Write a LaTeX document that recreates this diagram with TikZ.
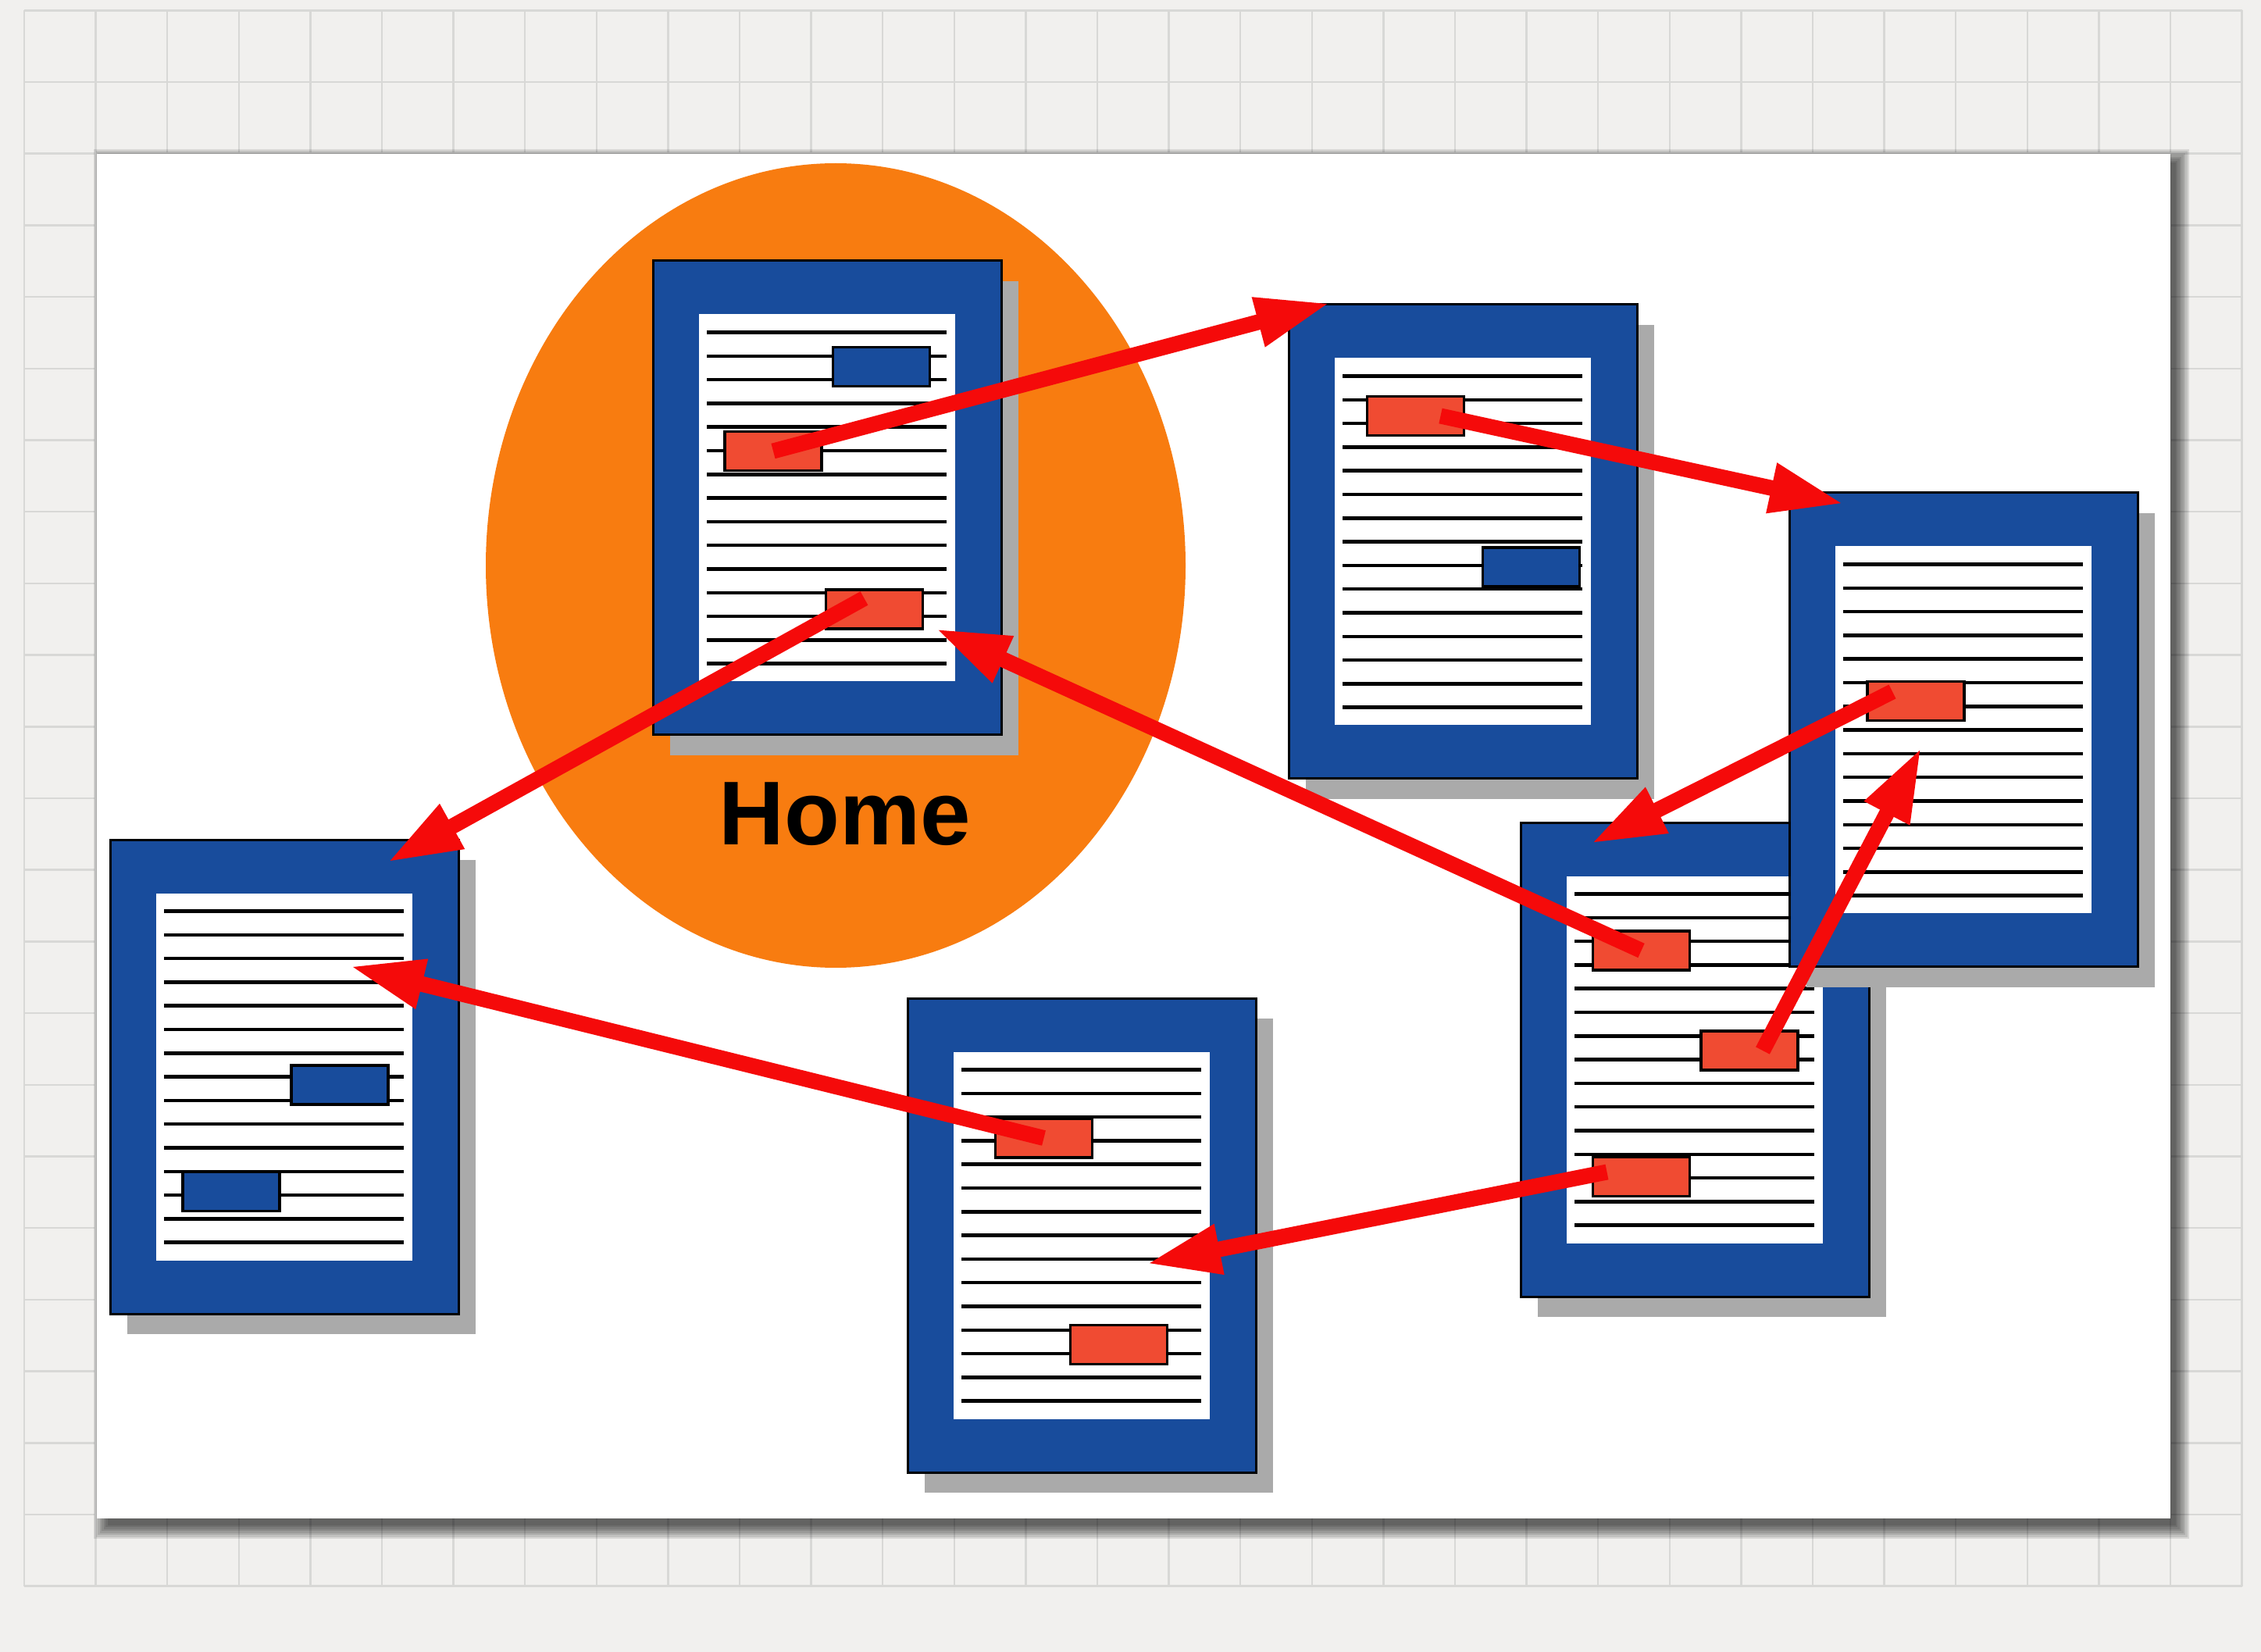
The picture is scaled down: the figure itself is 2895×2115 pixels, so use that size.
\documentclass[tikz,border=0pt]{standalone}
\usepackage{fontspec}
\newfontfamily\labelfont{Liberation Sans}
\usetikzlibrary{arrows.meta}
\usetikzlibrary{shapes.geometric}
\usetikzlibrary{shadows}
\definecolor{paper}{RGB}{241,240,238}
\definecolor{gridgray}{RGB}{216,216,214}
\definecolor{pageblue}{RGB}{24,76,156}
\definecolor{linkred}{RGB}{240,75,50}
\definecolor{arrowred}{RGB}{245,10,10}
\definecolor{homeorange}{RGB}{248,124,16}
\definecolor{shadowgray}{RGB}{170,170,170}

\begin{document}
\begin{tikzpicture}[
		x=0.1mm, y=-0.1mm,
		gridline/.style={draw=gridgray, line width=0.25mm},
		webpage/.style={
			rectangle, draw=black, line width=0.3mm, fill=pageblue,
			minimum width=44.6mm, minimum height=60.7mm, inner sep=0pt,
			drop shadow={shadow xshift=2.2mm, shadow yshift=-2.6mm, fill=shadowgray, opacity=1}
		},
		textline/.style={draw=black, line width=0.45mm},
		sheet/.style={
			rectangle, fill=white, minimum width=32.8mm, minimum height=47mm, inner sep=0pt,
			path picture={
				\foreach \i in {0,...,14}
					\draw[textline] ([xshift=1mm, yshift={-2.3mm-3.03mm*\i}]path picture bounding box.north west) -- ++(30.7mm,0);
			}
		},
		linkbox/.style={
			rectangle, draw=black, line width=0.35mm,
			minimum width=12.4mm, minimum height=5mm, inner sep=0pt
		},
		redlink/.style={linkbox, fill=linkred},
		bluelink/.style={linkbox, fill=pageblue},
		hyperlink/.style={draw=arrowred, line width=2mm, -{Triangle[length=9.5mm, width=6mm]}}
	]
		\useasboundingbox (0,0) rectangle (2895,2115);
		\fill[paper] (0,0) rectangle (2895,2115);
		\foreach \k in {0,...,31}
			\draw[gridline] ({31+91.6*\k},13) -- ({31+91.6*\k},2031);
		\foreach \k in {0,...,22}
			\draw[gridline] (31,{13.3+91.7*\k}) -- (2871,{13.3+91.7*\k});
		
		% the white card and its soft shadow
		\foreach \k in {1,...,8}
			\fill[black, opacity=0.1] ({140-2.5*\k},{211-2.5*\k}) rectangle ({2783+2.5*\k},{1950+2.5*\k});
		\fill[white] (124,197) rectangle (2779,1944);
		
		\node[ellipse, fill=homeorange, minimum width=89.6mm, minimum height=103mm, inner sep=0pt] (homezone) at (1070,724) {};
		\node[anchor=base, inner sep=0pt, font=\labelfont\bfseries\fontsize{33pt}{40pt}\selectfont] (homelabel) at (1082,1082) {Home};
		
		% home page
		\node[webpage] (home) at (1059,637.5) {};
		\node[sheet] (homeIn) at (home.center) {};
		\node[bluelink] (homeB1) at ([xshift=6.95mm, yshift=16.8mm]home.center) {};
		\node[redlink] (homeR1) at ([xshift=-6.9mm, yshift=6mm]home.center) {};
		\node[redlink] (homeR2) at ([xshift=6.05mm, yshift=-14.25mm]home.center) {};
		
		% upper middle page
		\node[webpage] (pA) at (1873,693.5) {};
		\node[sheet] (pAIn) at (pA.center) {};
		\node[redlink] (pAR1) at ([xshift=-6.05mm, yshift=16.1mm]pA.center) {};
		\node[bluelink] (pAB1) at ([xshift=8.75mm, yshift=-3.25mm]pA.center) {};
		
		% left page
		\node[webpage] (pE) at (364,1378.5) {};
		\node[sheet] (pEIn) at (pE.center) {};
		\node[bluelink] (pEB1) at ([xshift=7.1mm, yshift=-1.05mm]pE.center) {};
		\node[bluelink] (pEB2) at ([xshift=-6.8mm, yshift=-14.7mm]pE.center) {};
		
		% bottom page
		\node[webpage] (pD) at (1385,1581.5) {};
		\node[sheet] (pDIn) at (pD.center) {};
		\node[redlink] (pDR1) at ([xshift=-4.85mm, yshift=12.45mm]pD.center) {};
		\node[redlink] (pDR2) at ([xshift=4.75mm, yshift=-14mm]pD.center) {};
		
		% lower right page
		\node[webpage] (pC) at (2170,1356.5) {};
		\node[sheet] (pCIn) at (pC.center) {};
		\node[redlink] (pCR1) at ([xshift=-6.85mm, yshift=13.95mm]pC.center) {};
		\node[redlink] (pCR2) at ([xshift=7mm, yshift=1.15mm]pC.center) {};
		\node[redlink] (pCR3) at ([xshift=-6.85mm, yshift=-15mm]pC.center) {};
		
		% right page
		\node[webpage] (pB) at (2514,934.5) {};
		\node[sheet] (pBIn) at (pB.center) {};
		\node[redlink] (pBR1) at ([xshift=-6.1mm, yshift=3.7mm]pB.center) {};
		
		% links
		\coordinate (tipA) at (1703,388);
		\coordinate (tipB) at (2361,645);
		\coordinate (tipC) at (2037,1080);
		\coordinate (tipB2) at (2460,957);
		\coordinate (tipH) at (1198,805);
		\coordinate (tipE) at (496,1104);
		\coordinate (tipE2) at (448,1237);
		\coordinate (tipD) at (1468,1618);
		
		\draw[hyperlink] (homeR1.center) -- (tipA);
		\draw[hyperlink] ([xshift=3.2mm]pAR1.center) -- (tipB);
		\draw[hyperlink] ([xshift=-3mm, yshift=1.2mm]pBR1.center) -- (tipC);
		\draw[hyperlink] ([xshift=1.7mm]pCR2.center) -- (tipB2);
		\draw[hyperlink] (pCR1.center) -- (tipH);
		\draw[hyperlink] ([xshift=-1.3mm, yshift=1.4mm]homeR2.center) -- (tipE);
		\draw[hyperlink] (pDR1.center) -- (tipE2);
		\draw[hyperlink] ([xshift=-4.4mm, yshift=0.6mm]pCR3.center) -- (tipD);
	\end{tikzpicture}
\end{document}
